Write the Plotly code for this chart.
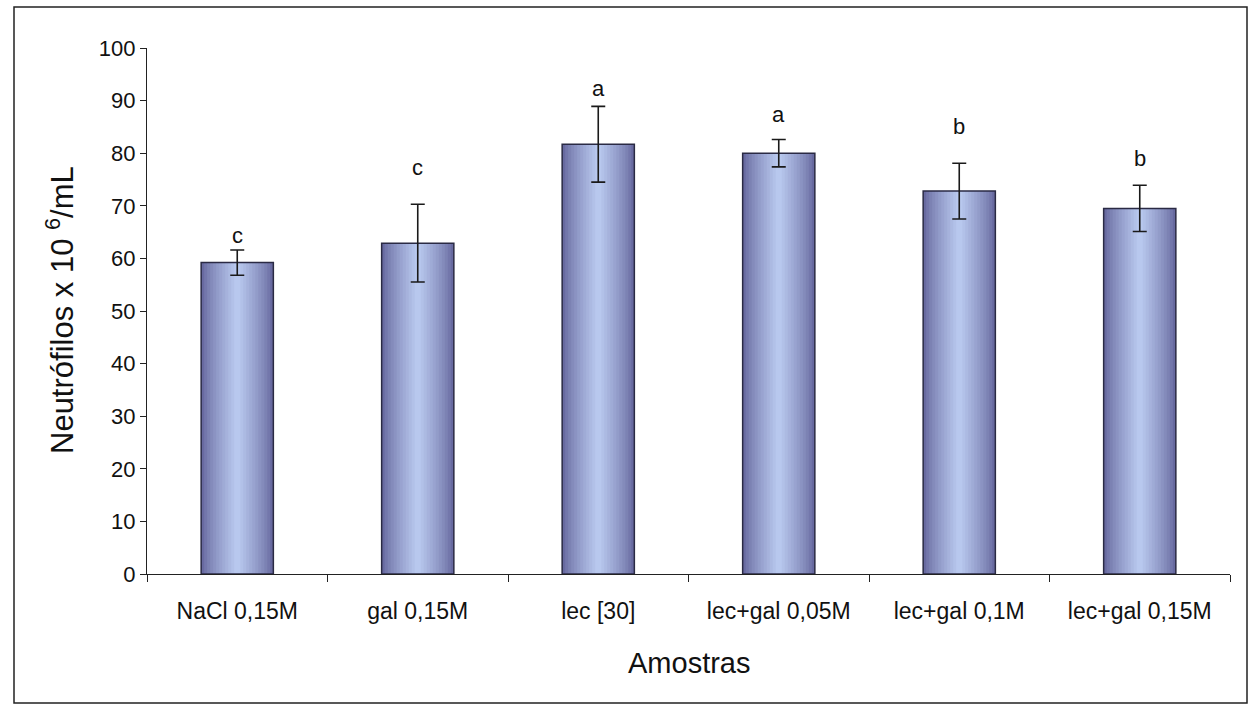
import plotly.graph_objects as go

categories = ["NaCl 0,15M", "gal 0,15M", "lec [30]", "lec+gal 0,05M", "lec+gal 0,1M", "lec+gal 0,15M"]
means = [59.2, 62.9, 81.7, 80.0, 72.8, 69.5]
errors = [2.4, 7.4, 7.2, 2.6, 5.3, 4.4]
letters = ["c", "c", "a", "a", "b", "b"]
letter_y = [64.3, 77.3, 92.3, 87.4, 85.1, 78.9]
y_ticks = [0, 10, 20, 30, 40, 50, 60, 70, 80, 90, 100]

FONT = "Liberation Sans, Arial, sans-serif"

# colour ramp for a smooth cylinder-like shading (edge -> centre)
edge = (104, 106, 160)
centre = (184, 200, 238)
n_steps = 12
fig = go.Figure()
for i in range(n_steps):
    t = (i / (n_steps - 1)) ** 0.8
    w = 0.40 * (1 - i / n_steps)
    c = tuple(int(edge[k] + (centre[k] - edge[k]) * t) for k in range(3))
    fig.add_trace(go.Bar(
        x=categories, y=means, width=w,
        marker=dict(color="rgb(%d,%d,%d)" % c, line=dict(width=0)),
        hoverinfo="skip", showlegend=False,
    ))
fig.add_trace(go.Bar(
    x=categories, y=means, width=0.40,
    marker=dict(color="rgba(0,0,0,0)", line=dict(color="#2a2a44", width=1.5)),
    error_y=dict(type="data", array=errors, visible=True, color="#1a1a1a", thickness=1.6, width=7),
    showlegend=False,
))

for cat, lt, ly in zip(categories, letters, letter_y):
    fig.add_annotation(x=cat, y=ly, text=lt, showarrow=False, xref="x", yref="y",
                       font=dict(family=FONT, size=22, color="#111"), yanchor="middle")

fig.add_annotation(xref="paper", yref="paper", x=(60 - 147) / 1083, y=(574 - 310) / 526,
                   text="Neutrófilos x 10 <sup>6</sup>/mL", textangle=-90, showarrow=False,
                   font=dict(family=FONT, size=31, color="#111"), xanchor="center", yanchor="middle")
fig.add_annotation(xref="paper", yref="paper", x=0.5, y=(574 - 663) / 526,
                   text="Amostras", showarrow=False,
                   font=dict(family=FONT, size=29, color="#111"), xanchor="center", yanchor="middle")

# outer frame
fig.add_shape(type="rect", xref="paper", yref="paper",
              x0=(14 - 147) / 1083, x1=(1247 - 147) / 1083,
              y0=(574 - 703) / 526, y1=(574 - 7) / 526,
              line=dict(color="#222", width=1.5), fillcolor="rgba(0,0,0,0)", layer="below")

fig.update_layout(
    width=1249, height=705,
    margin=dict(l=147, r=19, t=48, b=131),
    barmode="overlay",
    plot_bgcolor="white", paper_bgcolor="white",
    font=dict(family=FONT, color="#111"),
    xaxis=dict(showline=True, linecolor="#222", linewidth=1.2, ticks="outside", tickson="boundaries",
               ticklen=7, tickcolor="#222", tickfont=dict(family=FONT, size=23, color="#111"),
               ticklabelstandoff=16, showgrid=False, zeroline=False),
    yaxis=dict(range=[0, 100], tickvals=y_ticks, showline=True, linecolor="#222", linewidth=1.2,
               ticks="outside", ticklen=6, tickcolor="#222", tickfont=dict(family=FONT, size=22, color="#111"),
               showgrid=False, zeroline=False),
)

fig.write_html("out.html")
